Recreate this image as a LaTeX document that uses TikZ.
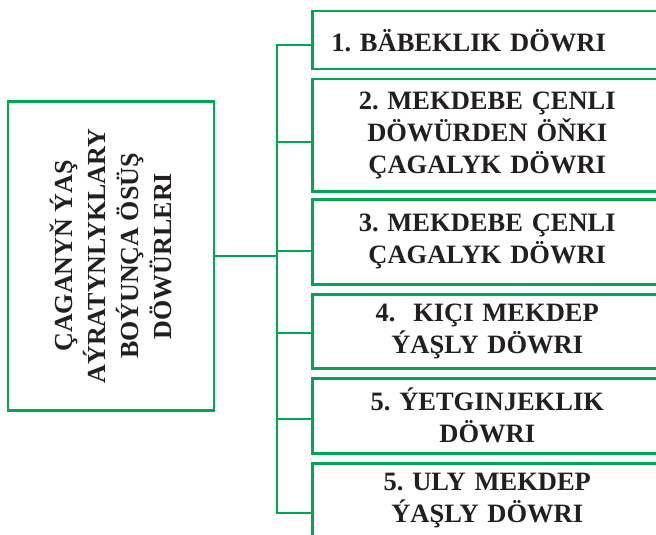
\documentclass[tikz,border=0pt]{standalone}
\usepackage{fontspec}
\setmainfont{Liberation Serif}
\usetikzlibrary{positioning}
\definecolor{chartgreen}{RGB}{0,166,81}
\definecolor{inkblack}{RGB}{35,31,32}
\tikzset{
  stage/.style={rectangle, draw=chartgreen, line width=2.5pt, minimum width=350pt, text width=330pt, inner xsep=10pt, align=center, text=inkblack, font=\fontsize{26.5}{32}\selectfont\bfseries},
  link/.style={draw=chartgreen, line width=2.5pt, line cap=rect},
}

\begin{document}
\frenchspacing
\begin{tikzpicture}[x=1pt, y=-1pt]
  \useasboundingbox (0,0) rectangle (656,535);
  \clip (0,0) rectangle (656,535);

  % left box with the rotated title
  \node (theme) [draw=chartgreen, line width=2.5pt, minimum width=206pt, minimum height=309pt] at (111,256) {};
  \node (themetext) [rotate=90, align=center, text=inkblack, font=\fontsize{26}{33}\selectfont\bfseries] at (theme.center) {ÇAGANYŇ ÝAŞ\\AÝRATYNLYKLARY\\BOÝUNÇA ÖSÜŞ\\DÖWÜRLERI};

  % stages
  \node (s1) [stage, anchor=north west, minimum height=58pt, align=left, inner xsep=19pt, text width=312pt] at (311,10) {1. BÄBEKLIK DÖWRI};
  \node (s2) [stage, below=7.5pt of s1, minimum height=112pt] {2. MEKDEBE ÇENLI\\DÖWÜRDEN ÖŇKI\\ÇAGALYK DÖWRI};
  \node (s3) [stage, below=5.5pt of s2, minimum height=85pt] {3. MEKDEBE ÇENLI\\ÇAGALYK DÖWRI};
  \node (s4) [stage, below=7.5pt of s3, minimum height=74pt] {4.\ \ KIÇI MEKDEP\\ÝAŞLY DÖWRI};
  \node (s5) [stage, below=7.5pt of s4, minimum height=75pt] {5. ÝETGINJEKLIK\\DÖWRI};
  \node (s6) [stage, below=7.5pt of s5, minimum height=75pt] {5. ULY MEKDEP\\ÝAŞLY DÖWRI};

  % connectors
  \coordinate (spine) at (277,45);
  \coordinate (spineend) at (277,513);
  \draw [link] (spine) -- (spineend);
  \draw [link] (theme.east) -- (theme.east -| spine);
  \foreach \b/\y in {s1/45, s2/142, s3/251, s4/333, s5/419, s6/513}
    \draw [link] (277,\y) -- (\b.west |- 0,\y);
\end{tikzpicture}
\end{document}
